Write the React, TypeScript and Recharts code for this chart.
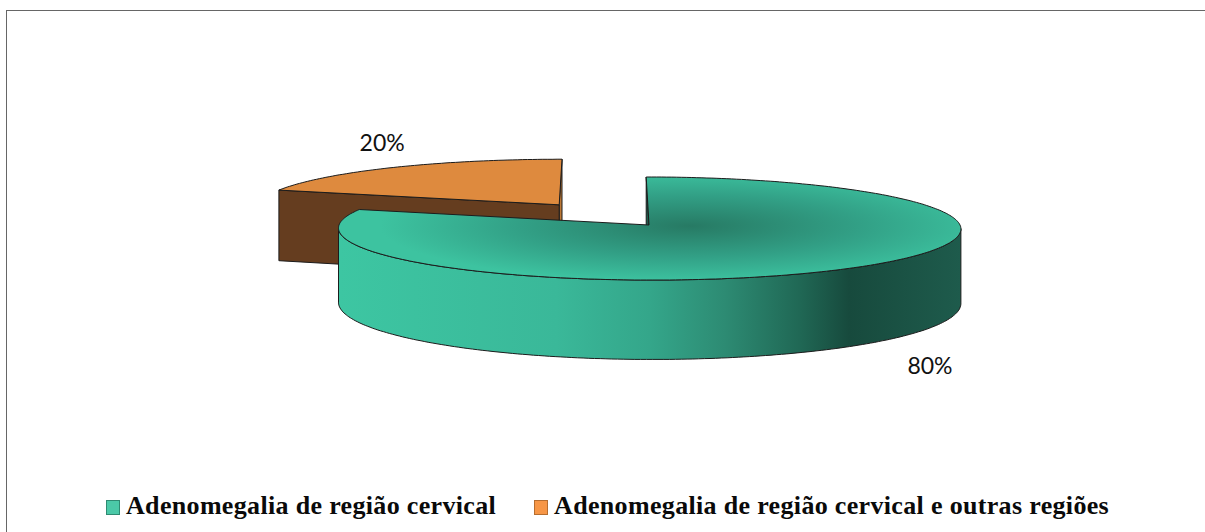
import { PieChart, Pie, Cell, Legend } from 'recharts';

const categories = ['Adenomegalia de região cervical e outras regiões', 'Adenomegalia de região cervical'];
const values = [20, 80];
const explodes = [0.5, 0];
const legendFills = ['#f79646', '#4bc9a8'];
const legendStrokes = ['#b66d2f', '#2f8a72'];
const topFills = ['#de8a3e', 'url(#greenTop)'];
const wallFills = ['#653d1f', 'url(#greenWall)'];
const sliverFills = ['#bd7835', '#1f5b4c'];
const labelOffsets = [[-11, -25], [85, 18]];

const chartData = categories.map((name, i) => ({ name, value: values[i] }));

// fake 3d: flat projection of the disc with a bit of perspective
const PERSP = 0.068;
const RY = 51.3;
const RX_LEFT = 310;
const RX_RIGHT = 311;
const SKEW = 3;
const DEPTH = 74;
const rad = (d: number) => (d * Math.PI) / 180;

function project(cx: number, cy: number, u: number, v: number, drop = 0) {
    const s = 1 / (1 + PERSP * v);
    const x = cx + (u < 0 ? RX_LEFT : RX_RIGHT) * u * s - SKEW * v * s;
    const y = cy - RY * v * s + (drop ? DEPTH * s : 0);
    return [x, y];
}

const toPath = (pts: number[][]) => 'M' + pts.map(p => `${p[0].toFixed(1)},${p[1].toFixed(1)}`).join('L') + 'Z';

function explodeOffset(index: number, midAngle: number) {
    return [explodes[index] * Math.cos(rad(midAngle)), explodes[index] * Math.sin(rad(midAngle))];
}

function Slice3D(props: any) {
    const { cx, cy, startAngle, endAngle, index } = props;
    const [ou, ov] = explodeOffset(index, (startAngle + endAngle) / 2);
    const angles: number[] = [];
    for (let a = startAngle; a >= endAngle; a -= 1) angles.push(a);
    if (angles[angles.length - 1] !== endAngle) angles.push(endAngle);

    const rim = (a: number, drop = 0) => project(cx, cy, ou + Math.cos(rad(a)), ov + Math.sin(rad(a)), drop);
    const apex = project(cx, cy, ou, ov);
    const apexLow = project(cx, cy, ou, ov, 1);

    const face = (a: number, normalV: number) => {
        if (normalV > 0.01) return null;
        const fill = Math.abs(normalV) < 0.01 ? sliverFills[index] : wallFills[index];
        return <path d={toPath([rim(a), apex, apexLow, rim(a, 1)])} fill={fill} stroke="#1c1c1c" strokeWidth={1} />;
    };

    const front = angles.filter(a => Math.sin(rad(a)) <= -PERSP);
    return (
        <g>
            {face(endAngle, -Math.cos(rad(endAngle)))}
            {face(startAngle, Math.cos(rad(startAngle)))}
            {front.length > 0 && (
                <path
                    d={toPath([...front.map(a => rim(a)), ...[...front].reverse().map(a => rim(a, 1))])}
                    fill={wallFills[index]}
                    stroke="#1c1c1c"
                    strokeWidth={1}
                />
            )}
            <path d={toPath([apex, ...angles.map(a => rim(a))])} fill={topFills[index]} stroke="#1c1c1c" strokeWidth={1} />
        </g>
    );
}

function renderLabel(props: any) {
    const { cx, cy, midAngle, index, percent } = props;
    const [ou, ov] = explodeOffset(index, midAngle);
    const v = ov + Math.sin(rad(midAngle));
    const [x, y] = project(cx, cy, ou + Math.cos(rad(midAngle)), v, v < 0 ? 1 : 0);
    return (
        <text
            key={index}
            x={x + labelOffsets[index][0]}
            y={y + labelOffsets[index][1]}
            textAnchor="middle"
            dominantBaseline="central"
            fill="#111"
            style={{ fontFamily: 'Lato', fontSize: 23 }}
        >
            {`${(percent * 100).toFixed(0)}%`}
        </text>
    );
}

function LegendRow() {
    return (
        <div style={{ position: 'absolute', left: 106, top: 3, display: 'flex', alignItems: 'center', whiteSpace: 'nowrap' }}>
            {[1, 0].map((i, pos) => (
                <div key={i} style={{ display: 'flex', alignItems: 'center', marginRight: pos === 0 ? 38 : 0 }}>
                    <span style={{ width: 12, height: 13, background: legendFills[i], border: `1px solid ${legendStrokes[i]}`, marginRight: 6, marginTop: 2 }} />
                    <span style={{ fontFamily: 'Liberation Serif', fontWeight: 700, fontSize: 26, letterSpacing: 0.33, color: '#0a0a0a' }}>{categories[i]}</span>
                </div>
            ))}
        </div>
    );
}

export default function App() {
    return (
        <div style={{ position: 'absolute', left: 0, top: 0, width: 1205, height: 532, background: '#fff', overflow: 'hidden' }}>
            <div style={{ position: 'absolute', left: 6, top: 10, right: 0, bottom: 0, borderTop: '1.5px solid #666', borderLeft: '1.5px solid #666' }} />
            <PieChart width={1205} height={532} margin={{ top: 0, right: 0, bottom: 0, left: 0 }}>
                <defs>
                    <radialGradient id="greenTop" gradientUnits="userSpaceOnUse" cx={0} cy={0} r={310} gradientTransform="translate(690 226) scale(1 0.18)">
                        <stop offset="0%" stopColor="#277a64" />
                        <stop offset="55%" stopColor="#32a086" />
                        <stop offset="100%" stopColor="#3dc3a0" />
                    </radialGradient>
                    <linearGradient id="greenWall" gradientUnits="userSpaceOnUse" x1={339} y1={0} x2={961} y2={0}>
                        <stop offset="0%" stopColor="#3dc6a2" />
                        <stop offset="35%" stopColor="#3ab899" />
                        <stop offset="50%" stopColor="#34a68a" />
                        <stop offset="62%" stopColor="#2d8b73" />
                        <stop offset="74%" stopColor="#206855" />
                        <stop offset="82%" stopColor="#174a3d" />
                        <stop offset="100%" stopColor="#1e5b4c" />
                    </linearGradient>
                </defs>
                <Pie
                    data={chartData}
                    dataKey="value"
                    nameKey="name"
                    cx={649}
                    cy={225}
                    outerRadius={200}
                    startAngle={162}
                    endAngle={-198}
                    paddingAngle={0}
                    stroke="none"
                    shape={Slice3D}
                    label={renderLabel}
                    labelLine={false}
                    isAnimationActive={false}
                >
                    {chartData.map((_, index) => (
                        <Cell key={`cell-${index}`} fill={legendFills[index]} />
                    ))}
                </Pie>
                <Legend content={<LegendRow />} wrapperStyle={{ left: 0, top: 488, width: 1205, height: 36 }} />
            </PieChart>
        </div>
    );
}
